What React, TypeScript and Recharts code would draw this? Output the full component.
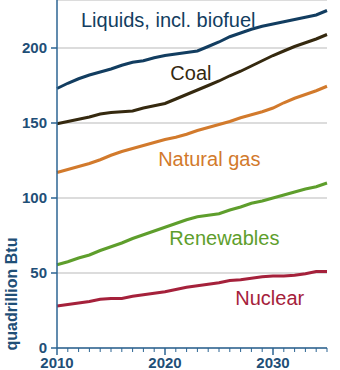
import { CartesianGrid, Line, LineChart, ReferenceDot, XAxis, YAxis } from "recharts";

const YEARS = [2010, 2011, 2012, 2013, 2014, 2015, 2016, 2017, 2018, 2019, 2020, 2021, 2022, 2023, 2024, 2025, 2026, 2027, 2028, 2029, 2030, 2031, 2032, 2033, 2034, 2035];
const LIQUIDS = [173, 176.5, 179.5, 182, 184, 186, 188.5, 190.5, 191.5, 193.5, 195, 196, 197, 198, 201, 204, 207.5, 210, 212.5, 214.5, 216, 217.5, 219, 220.5, 222, 225];
const COAL = [149.5, 151, 152.5, 154, 156, 157, 157.5, 158, 160, 161.5, 163, 166, 169, 172, 175, 178, 181.5, 184.5, 188, 191.5, 195, 198, 201, 203.5, 206, 209];
const GAS = [117, 119, 121, 123, 125.5, 128.5, 131, 133, 135, 137, 139, 140.5, 142.5, 145, 147, 149, 151, 153.5, 155.5, 157.5, 160, 163.5, 166.5, 169, 171.5, 174.5];
const RENEWABLES = [55.5, 57.5, 60, 62, 65, 67.5, 70, 73, 75.5, 78, 80.5, 83, 85.5, 87.5, 88.5, 89.5, 92, 94, 96.5, 98, 100, 102, 104, 106, 107.5, 110];
const NUCLEAR = [28, 29, 30, 31, 32.5, 33, 33, 34.5, 35.5, 36.5, 37.5, 39, 40.5, 41.5, 42.5, 43.5, 45, 45.5, 46.5, 47.5, 48, 48, 48.5, 49.5, 51, 51];
const Y_TICKS = [0, 50, 100, 150, 200];

// label anchors in data space: [key, text, year, value]
const LABELS: Array<[string, string, number, number]> = [
  ["liquids", "Liquids, incl. biofuel", 2020.3, 218.5],
  ["coal", "Coal", 2022.4, 183.5],
  ["gas", "Natural gas", 2024.1, 126.3],
  ["renewables", "Renewables", 2025.5, 73.7],
  ["nuclear", "Nuclear", 2029.7, 33.7],
];

const COLORS: Record<string, string> = {
  liquids: "#123d60",
  coal: "#35290f",
  gas: "#d27a2c",
  renewables: "#5e9e2c",
  nuclear: "#a5213b",
};

const AXIS = "#2c6593";
const TEXT = "#1f4f77";
const FONT = "'Liberation Sans', Arial, sans-serif";

const data = YEARS.map((year, i) => ({
  year,
  liquids: LIQUIDS[i],
  coal: COAL[i],
  gas: GAS[i],
  renewables: RENEWABLES[i],
  nuclear: NUCLEAR[i],
}));

function YearTick({ x, y, payload }: any) {
  const major = payload.value % 10 === 0;
  return (
    <g>
      <line x1={x} x2={x} y1={y} y2={y + (major ? 7 : 4)} stroke={AXIS} strokeWidth={major ? 1.5 : 1} />
      {major && (
        <text x={x} y={y + 20} textAnchor="middle" fill={TEXT} fontSize={15} fontWeight="bold" fontFamily={FONT}>
          {payload.value}
        </text>
      )}
    </g>
  );
}

function UnitLabel({ viewBox }: any) {
  const cx = viewBox.x + 11;
  const cy = viewBox.y + viewBox.height - 54;
  return (
    <text
      x={cx}
      y={cy}
      transform={`rotate(-90, ${cx}, ${cy})`}
      textAnchor="middle"
      dominantBaseline="central"
      fill={TEXT}
      fontSize={16}
      fontWeight="bold"
      fontFamily={FONT}
    >
      quadrillion Btu
    </text>
  );
}

export default function App() {
  return (
    <div style={{ position: "absolute", left: 0, top: 0, width: 340, height: 370, background: "#fff" }}>
      <LineChart width={340} height={370} data={data} margin={{ top: 0, right: 13, bottom: 0, left: 0 }}>
        <CartesianGrid vertical={false} stroke="#b9b9b9" strokeWidth={1.2} />
        <XAxis
          dataKey="year"
          type="number"
          domain={[2010, 2035]}
          ticks={YEARS}
          interval={0}
          height={22}
          tickSize={0}
          tickMargin={0}
          tickLine={false}
          axisLine={{ stroke: AXIS, strokeWidth: 1.5 }}
          tick={<YearTick />}
        />
        <YAxis
          type="number"
          domain={[0, 232]}
          ticks={Y_TICKS}
          width={57}
          tickSize={6}
          tickMargin={4}
          axisLine={{ stroke: AXIS, strokeWidth: 1.5 }}
          tickLine={{ stroke: AXIS, strokeWidth: 1.5 }}
          tick={{ fill: TEXT, fontSize: 15, fontWeight: "bold", fontFamily: FONT }}
          label={<UnitLabel />}
        />
        <Line dataKey="liquids" stroke={COLORS.liquids} strokeWidth={3} dot={false} isAnimationActive={false} />
        <Line dataKey="coal" stroke={COLORS.coal} strokeWidth={3} dot={false} isAnimationActive={false} />
        <Line dataKey="gas" stroke={COLORS.gas} strokeWidth={3} dot={false} isAnimationActive={false} />
        <Line dataKey="renewables" stroke={COLORS.renewables} strokeWidth={3} dot={false} isAnimationActive={false} />
        <Line dataKey="nuclear" stroke={COLORS.nuclear} strokeWidth={3} dot={false} isAnimationActive={false} />
        {LABELS.map(([key, text, year, value]) => (
          <ReferenceDot
            key={key}
            x={year}
            y={value}
            r={0}
            fill="none"
            stroke="none"
            label={{ value: text, position: "center", fill: COLORS[key], fontSize: 20, fontFamily: FONT }}
          />
        ))}
      </LineChart>
    </div>
  );
}
